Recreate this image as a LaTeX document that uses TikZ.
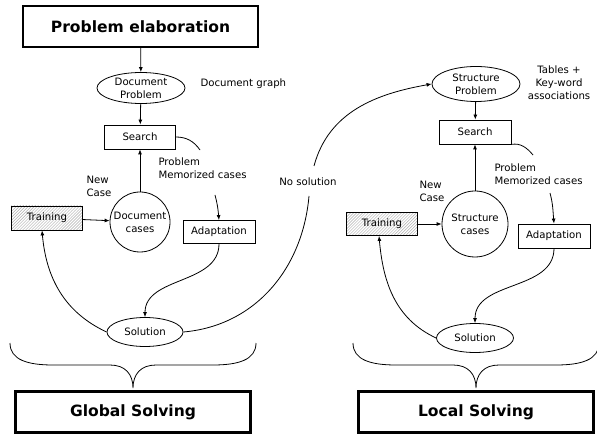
\documentclass[tikz,border=0pt]{standalone}
\usepackage{fontspec}
\setmainfont{DejaVu Sans}
\usetikzlibrary{arrows.meta,shapes.geometric,patterns}

\begin{document}
\begin{tikzpicture}[x=1bp, y=1bp, font=\fontsize{10.2}{13}\selectfont,
    bigbox/.style={draw, line width=2.2bp, minimum width=235bp, minimum height=41bp,
      font=\bfseries\fontsize{15.6}{18}\selectfont},
    procbox/.style={draw, line width=0.8bp, minimum width=71bp, minimum height=24bp, inner sep=0pt},
    hatchbox/.style={procbox, pattern=north east lines, pattern color=gray!65},
    data/.style={ellipse, draw, line width=0.8bp, inner sep=0pt, align=center},
    store/.style={circle, draw, line width=0.8bp, inner sep=0pt, align=center},
    flow/.style={-{Latex[length=5bp,width=4bp]}, line width=0.8bp}]
  \useasboundingbox (0,0) rectangle (597,-435);

  % global solving
  \node [bigbox] (elab) at (140.5,-26.5) {Problem elaboration};
  \node [data, minimum width=88bp, minimum height=31bp] (docprob) at (141,-88) {Document\\Problem};
  \node [anchor=west] (docgraph) at (197,-84) {Document graph};
  \node [procbox] (search1) at (140,-137) {Search};
  \node [store, minimum size=60bp] (doccases) at (140,-222) {Document\\cases};
  \node [anchor=west, align=left] (newcase1) at (83,-186.5) {New\\Case};
  \node [hatchbox] (train1) at (47,-218) {Training};
  \node [anchor=west, align=left] (memo1) at (155,-168.5) {Problem\\Memorized cases};
  \node [procbox, minimum width=72bp, minimum height=23bp] (adapt1) at (219,-232) {Adaptation};
  \node [data, minimum width=76bp, minimum height=29bp] (sol1) at (145,-332) {Solution};
  \node [bigbox] (global) at (133,-412) {Global Solving};
  \coordinate (s1a) at (200,-150);
  \coordinate (s1b) at (215,-195);

  \draw [flow] (elab) -- (docprob);
  \draw [flow] (docprob) -- (search1);
  \draw [flow] (doccases) -- (search1);
  \draw [flow] (train1) -- (doccases);
  \draw [line width=0.8bp] (search1.east) to[out=0, in=125] (s1a);
  \draw [flow] (s1b) to[out=-75, in=95] (adapt1.north);
  \draw [flow] (adapt1.south) to[out=-90, in=90] (sol1.north);
  \draw [flow] (sol1.west) to[out=155, in=-85] ([xshift=-5bp]train1.south);

  % no solution
  \node (nosol) at (308,-182) {No solution};
  \coordinate (ns1) at (309,-196);
  \coordinate (ns2) at (314,-166);

  % local solving
  \node [data, minimum width=88bp, minimum height=35bp] (strprob) at (476,-84) {Structure\\Problem};
  \node [align=center] (tables) at (559,-83) {Tables +\\Key-word\\associations};
  \node [procbox, minimum width=72bp] (search2) at (475,-132) {Search};
  \node [store, minimum size=66bp] (strcases) at (475,-224) {Structure\\cases};
  \node [anchor=west, align=left] (newcase2) at (416,-191) {New\\Case};
  \node [hatchbox, minimum height=23bp] (train2) at (382,-224) {Training};
  \node [anchor=west, align=left] (memo2) at (491,-174.5) {Problem\\Memorized cases};
  \node [procbox, minimum width=72bp] (adapt2) at (554,-236) {Adaptation};
  \node [data, minimum width=77bp, minimum height=29bp] (sol2) at (475,-338) {Solution};
  \node [bigbox] (local) at (476,-412) {Local Solving};
  \coordinate (s2a) at (533,-155);
  \coordinate (s2b) at (550,-193);

  \draw [line width=0.8bp] (sol1.east) to[out=5, in=-95] (ns1);
  \draw [flow] (ns2) to[out=75, in=190] (strprob.west);

  \draw [flow] (strprob) -- (search2);
  \draw [flow] (strcases) -- (search2);
  \draw [flow] (train2) -- (strcases);
  \draw [line width=0.8bp] (search2.south east) to[out=10, in=130] (s2a);
  \draw [flow] (s2b) to[out=-75, in=95] (adapt2.north);
  \draw [flow] (adapt2.south) to[out=-90, in=90] (sol2.north);
  \draw [flow] (sol2.west) to[out=155, in=-85] ([xshift=-3bp]train2.south);

  % braces
  \foreach \cx in {133,476}
    \draw [line width=0.8bp] ({\cx-123},-343) .. controls ({\cx-123},-360) and ({\cx-105},-365) .. ({\cx-80},-365)
      -- ({\cx-23},-365) .. controls ({\cx-8},-365) and (\cx,-374) .. (\cx,-388)
      .. controls (\cx,-374) and ({\cx+8},-365) .. ({\cx+23},-365)
      -- ({\cx+80},-365) .. controls ({\cx+105},-365) and ({\cx+123},-360) .. ({\cx+123},-343);
\end{tikzpicture}
\end{document}
